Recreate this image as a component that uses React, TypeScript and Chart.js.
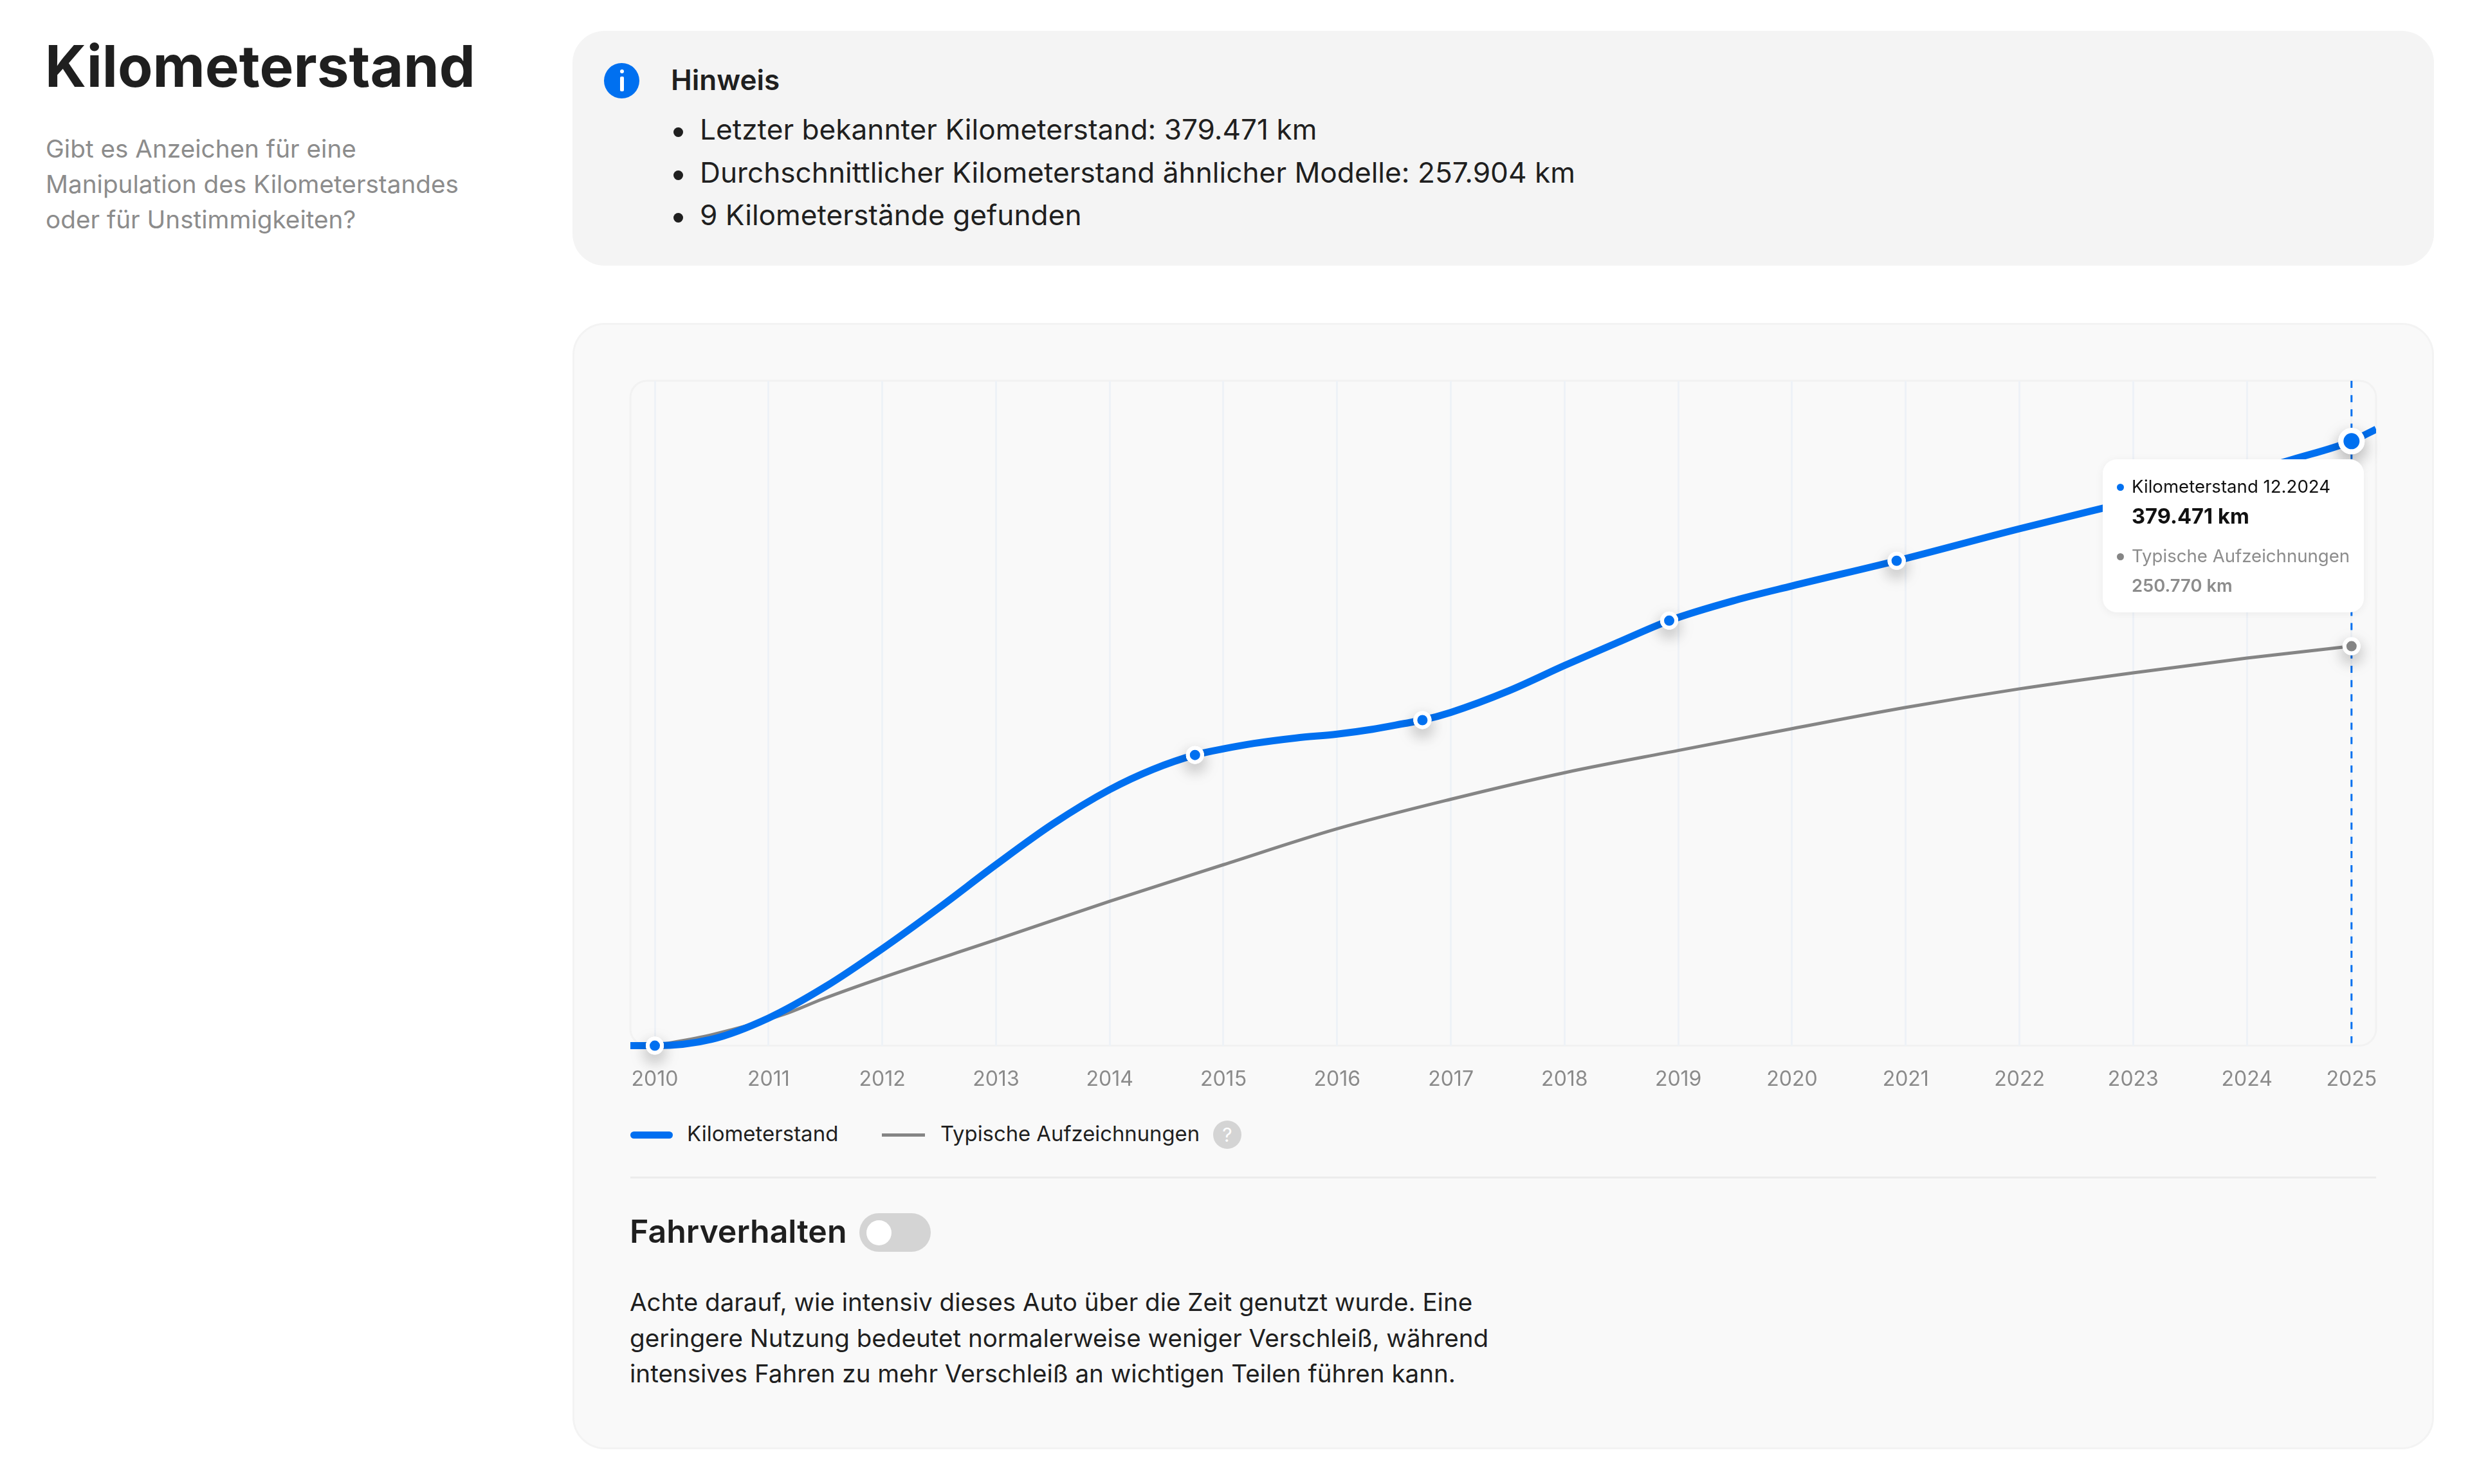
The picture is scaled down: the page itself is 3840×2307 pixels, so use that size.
import { useEffect, useRef, type CSSProperties, type ReactNode } from "react";
import Chart from "chart.js/auto";

const kmYears = [
  2009.785, 2010, 2010.5, 2011, 2011.5, 2012, 2012.5, 2013, 2013.5, 2014, 2014.38, 2014.75, 2015, 2015.27, 2015.64,
  2016, 2016.31, 2016.59, 2016.75, 2017, 2017.51, 2018, 2018.47, 2018.92, 2019.5, 2020, 2020.92, 2022, 2023, 2024,
  2024.41, 2024.92, 2025.136,
];
const kmValues = [
  0, 0, 4028, 17322, 37061, 60829, 86611, 113601, 139181, 160733, 173423, 182487, 186313, 189738, 193162, 195579,
  198600, 202226, 204362, 209235, 222771, 238642, 253185, 266801, 279571, 288595, 304386, 324488, 342011, 359736,
  368196, 379471, 386938,
];
const kmMarkers = [2010, 2014.75, 2016.75, 2018.92, 2020.92];

const typicalYears = [
  2010, 2010.5, 2011.14, 2011.48, 2012, 2013, 2014, 2015, 2016, 2017, 2018, 2019, 2020, 2021, 2022, 2023, 2024, 2024.92,
  2024.99,
];
const typicalValues = [
  0, 6848, 19739, 29407, 42701, 66469, 90639, 113601, 136160, 154691, 171368, 185306, 199003, 212297, 223979, 234050,
  243315, 250770, 251372,
];

const lastReading = 2024.92;
const tickValues = [
  2010, 2011, 2012, 2013, 2014, 2015, 2016, 2017, 2018, 2019, 2020, 2021, 2022, 2023, 2024, 2024.92,
];
const tickLabels = [
  "2010", "2011", "2012", "2013", "2014", "2015", "2016", "2017", "2018", "2019", "2020", "2021", "2022", "2023",
  "2024", "2025",
];

const BLUE = "#0070f0";
const GRAY = "#858585";
const FONT = "Inter, sans-serif";

// rounded outline of the plot area
const plotFrame = {
  id: "plotFrame",
  beforeDraw(chart: Chart) {
    const { ctx, chartArea: a } = chart;
    ctx.save();
    ctx.strokeStyle = "#f2f2f2";
    ctx.lineWidth = 3;
    ctx.beginPath();
    ctx.roundRect(a.left, a.top, a.right - a.left, a.bottom - a.top, 26);
    ctx.stroke();
    ctx.restore();
  },
};

// dashed hover line at the last reading
const hoverLine = {
  id: "hoverLine",
  beforeDatasetsDraw(chart: Chart) {
    const { ctx, chartArea: a } = chart;
    const x = chart.scales.x.getPixelForValue(lastReading);
    ctx.save();
    ctx.strokeStyle = BLUE;
    ctx.lineWidth = 3;
    ctx.setLineDash([11, 11.15]);
    ctx.beginPath();
    ctx.moveTo(x, a.top);
    ctx.lineTo(x, a.bottom - 4);
    ctx.stroke();
    ctx.restore();
  },
};

// soft shadow under the markers, on top of the lines
const markerShadow = {
  id: "markerShadow",
  afterDatasetsDraw(chart: Chart) {
    const { ctx } = chart;
    [1, 0].forEach((i) => {
      chart.getDatasetMeta(i).data.forEach((el: any) => {
        if (el.options.radius <= 0) return;
        ctx.save();
        ctx.shadowColor = "rgba(0,0,0,0.28)";
        ctx.shadowBlur = 26;
        ctx.shadowOffsetY = 10;
        el.draw(ctx);
        ctx.restore();
        el.draw(ctx);
      });
    });
  },
};

function KmChart() {
  const canvasRef = useRef<HTMLCanvasElement | null>(null);

  useEffect(() => {
    if (!canvasRef.current) return;

    const chart = new Chart(canvasRef.current, {
      type: "line",
      data: {
        datasets: [
          {
            label: "Kilometerstand",
            data: kmYears.map((x, i) => ({ x, y: kmValues[i] })),
            borderColor: BLUE,
            borderWidth: 11,
            cubicInterpolationMode: "monotone",
            clip: { left: 0, right: 0, top: false, bottom: false } as any,
            pointBackgroundColor: BLUE,
            pointBorderColor: "#ffffff",
            pointBorderWidth: (c: any) => (kmYears[c.dataIndex] === lastReading ? 8 : 6),
            pointRadius: (c: any) => {
              const year = kmYears[c.dataIndex];
              if (year === lastReading) return 16.5;
              return kmMarkers.includes(year) ? 11 : 0;
            },
          },
          {
            label: "Typische Aufzeichnungen",
            data: typicalYears.map((x, i) => ({ x, y: typicalValues[i] })),
            borderColor: GRAY,
            borderWidth: 5,
            cubicInterpolationMode: "monotone",
            clip: { left: 0, right: 0, top: false, bottom: false } as any,
            pointBackgroundColor: GRAY,
            pointBorderColor: "#ffffff",
            pointBorderWidth: 6,
            pointRadius: (c: any) => (typicalYears[c.dataIndex] === lastReading ? 11 : 0),
          },
        ],
      },
      options: {
        responsive: false,
        devicePixelRatio: 1,
        animation: false,
        events: [],
        layout: { padding: { left: 80, right: 86, top: 52, bottom: 8 } },
        plugins: { legend: { display: false }, tooltip: { enabled: false } },
        scales: {
          x: {
            type: "linear",
            min: 2009.785,
            max: 2025.136,
            afterBuildTicks: (axis: any) => {
              axis.ticks = tickValues.map((value) => ({ value }));
            },
            border: { display: false },
            grid: { color: "#eef2f7", lineWidth: 3, drawTicks: false },
            ticks: {
              color: "#8a8a8a",
              font: { family: FONT, size: 32 },
              padding: 34,
              autoSkip: false,
              maxRotation: 0,
              minRotation: 0,
              callback: (_v: any, i: number) => tickLabels[i],
            },
          },
          y: { display: false, min: 0, max: 417340 },
        },
      },
      plugins: [plotFrame, hoverLine, markerShadow],
    });

    return () => chart.destroy();
  }, []);

  return (
    <canvas
      ref={canvasRef}
      width={2880}
      height={1200}
      style={{ position: "absolute", left: 900, top: 540, width: 2880, height: 1200 }}
    />
  );
}

// one line of text, placed by its baseline
function Line({
  x,
  base,
  size,
  color = "#1f1f1f",
  weight = 400,
  spacing = 0,
  children,
}: {
  x: number;
  base: number;
  size: number;
  color?: string;
  weight?: number;
  spacing?: number;
  children: ReactNode;
}) {
  const style: CSSProperties = {
    position: "absolute",
    left: x,
    top: base - 0.964 * size,
    fontSize: size,
    lineHeight: 1.2,
    fontWeight: weight,
    color,
    letterSpacing: spacing,
    whiteSpace: "nowrap",
  };
  return <div style={style}>{children}</div>;
}

function Box({ l, t, w, h, style }: { l: number; t: number; w: number; h: number; style?: CSSProperties }) {
  return <div style={{ position: "absolute", left: l, top: t, width: w, height: h, ...style }} />;
}

function Bullet({ y }: { y: number }) {
  return <Box l={1047} t={y} w={15} h={15} style={{ background: "#1f1f1f", borderRadius: "50%" }} />;
}

export default function App() {
  return (
    <div style={{ position: "relative", width: 3840, height: 2307, background: "#fff", fontFamily: FONT, overflow: "hidden" }}>
      <style>{"body{margin:0}"}</style>

      {/* Left column */}
      <Line x={70} base={136} size={89} weight={700}>Kilometerstand</Line>
      <Line x={71} base={245} size={38.7} color="#8c8c8c">Gibt es Anzeichen für eine</Line>
      <Line x={71} base={300} size={38.7} color="#8c8c8c">Manipulation des Kilometerstandes</Line>
      <Line x={71} base={355} size={38.7} color="#8c8c8c">oder für Unstimmigkeiten?</Line>

      {/* Hint card */}
      <Box l={890} t={48} w={2894} h={365} style={{ background: "#f4f4f4", borderRadius: 50 }} />
      <Box l={939} t={98} w={55} h={55} style={{ background: BLUE, borderRadius: "50%" }} />
      <Box l={964} t={108} w={6} h={6} style={{ background: "#fff", borderRadius: "50%" }} />
      <Box l={964} t={119} w={6} h={23} style={{ background: "#fff", borderRadius: 2 }} />
      <Line x={1043} base={140} size={44} weight={600}>Hinweis</Line>
      <Bullet y={198} />
      <Line x={1088} base={218} size={44.2}>Letzter bekannter Kilometerstand: 379.471 km</Line>
      <Bullet y={265} />
      <Line x={1088} base={284.5} size={44.2}>Durchschnittlicher Kilometerstand ähnlicher Modelle: 257.904 km</Line>
      <Bullet y={331} />
      <Line x={1088} base={351} size={44.2}>9 Kilometerstände gefunden</Line>

      {/* Chart card */}
      <Box
        l={890}
        t={502}
        w={2894}
        h={1751}
        style={{ background: "#f9f9f9", border: "3px solid #f3f3f3", borderRadius: 50, boxSizing: "border-box" }}
      />
      <KmChart />

      {/* Tooltip */}
      <Box
        l={3269}
        t={714}
        w={406}
        h={238}
        style={{ background: "#fff", borderRadius: 22, boxShadow: "0 2px 14px rgba(0,0,0,0.06)" }}
      />
      <Box l={3291} t={752} w={11} h={11} style={{ background: BLUE, borderRadius: "50%" }} />
      <Line x={3314} base={767} size={27.6} color="#111">Kilometerstand 12.2024</Line>
      <Line x={3314} base={815} size={32.7} weight={700} color="#111">379.471 km</Line>
      <Box l={3291} t={860} w={11} h={11} style={{ background: GRAY, borderRadius: "50%" }} />
      <Line x={3314} base={875} size={27.6} color="#8c8c8c">Typische Aufzeichnungen</Line>
      <Line x={3314} base={920} size={27.4} weight={600} color="#8c8c8c">250.770 km</Line>

      {/* Legend */}
      <Box l={980} t={1759} w={66} h={11} style={{ background: BLUE, borderRadius: 6 }} />
      <Line x={1068} base={1775} size={33}>Kilometerstand</Line>
      <Box l={1371} t={1762} w={67} h={5} style={{ background: GRAY }} />
      <Line x={1462} base={1775} size={32.8}>Typische Aufzeichnungen</Line>
      <div
        style={{
          position: "absolute",
          left: 1886,
          top: 1742,
          width: 44,
          height: 44,
          borderRadius: "50%",
          background: "#d4d4d4",
          color: "#fff",
          fontSize: 30,
          lineHeight: "44px",
          textAlign: "center",
        }}
      >
        ?
      </div>

      <Box l={980} t={1829} w={2714} h={3} style={{ background: "#ececec" }} />

      {/* Driving behaviour */}
      <Line x={979} base={1932} size={50} weight={600}>Fahrverhalten</Line>
      <Box l={1336} t={1886} w={111} h={60} style={{ background: "#d4d4d4", borderRadius: 30 }} />
      <Box l={1347} t={1897} w={39} h={39} style={{ background: "#fff", borderRadius: "50%" }} />
      <Line x={979} base={2038} size={38.6}>Achte darauf, wie intensiv dieses Auto über die Zeit genutzt wurde. Eine</Line>
      <Line x={979} base={2094} size={38.6}>geringere Nutzung bedeutet normalerweise weniger Verschleiß, während</Line>
      <Line x={979} base={2149} size={38.6}>intensives Fahren zu mehr Verschleiß an wichtigen Teilen führen kann.</Line>
    </div>
  );
}
